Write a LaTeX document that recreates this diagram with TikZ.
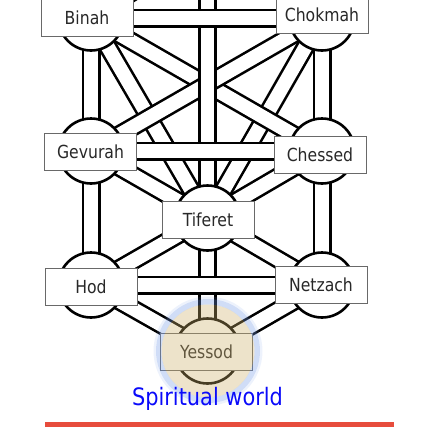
\documentclass[tikz,border=0pt]{standalone}
\usepackage{fontspec}
\setmainfont{DejaVu Sans}
\newfontfamily\lblfont{DejaVu Sans}[FakeStretch=0.87]
\definecolor{boxgray}{RGB}{105,105,105}
\definecolor{labeltext}{RGB}{40,40,40}
\definecolor{halobeige}{RGB}{205,175,105}
\definecolor{haloblue}{RGB}{110,150,230}
\definecolor{worldblue}{RGB}{10,10,250}
\definecolor{linered}{RGB}{231,76,60}
\begin{document}
\begin{tikzpicture}[x=1pt,y=-1pt,
  band/.style={draw=black, line width=2.6pt, double=white, double distance=13.8pt},
  sefira/.style={circle, draw=black, line width=2.6pt, fill=white, minimum size=65pt, inner sep=0pt},
  lbl/.style={rectangle, draw=boxgray, line width=0.9pt, fill=white, minimum width=92pt, minimum height=37pt, inner sep=0pt, text=labeltext, font=\lblfont\fontsize{18}{21}\selectfont},
]
\useasboundingbox (0,0) rectangle (422,440);
\begin{scope}
\clip (0,0) rectangle (422,440);
% centres of the sefirot
\coordinate (K) at (207.5,-55);
\coordinate (B) at (91,18);
\coordinate (C) at (322,18);
\coordinate (G) at (91,151);
\coordinate (H) at (322,151);
\coordinate (T) at (207.5,218);
\coordinate (D) at (91,285);
\coordinate (N) at (322,285);
\coordinate (Y) at (207.5,351);
% paths, bottom to top
\draw[band] (K) -- (B);
\draw[band] (K) -- (C);
\draw[band] (B) -- (T);
\draw[band] (C) -- (T);
\draw[band] (B) -- (H);
\draw[band] (C) -- (G);
\draw[band] (G) -- (T);
\draw[band] (H) -- (T);
\draw[band] (B) -- (G);
\draw[band] (C) -- (H);
\draw[band] (G) -- (D);
\draw[band] (H) -- (N);
\draw[band] (D) -- (T);
\draw[band] (N) -- (T);
\draw[band] (D) -- (Y);
\draw[band] (N) -- (Y);
\draw[band] (K) -- (T);
\draw[band] (T) -- (Y);
\draw[band] (B) -- (C);
\draw[band] (G) -- (H);
\draw[band] (D) -- (N);
% circles
\node[sefira] (cK) at (K) {};
\node[sefira] (cB) at (B) {};
\node[sefira] (cC) at (C) {};
\node[sefira] (cG) at (G) {};
\node[sefira] (cH) at (H) {};
\node[sefira] (cT) at (T) {};
\node[sefira] (cD) at (D) {};
\node[sefira] (cN) at (N) {};
\node[sefira] (cY) at (Y) {};
% labels
\node[lbl] (lB) at (87,17.5) {Binah};
\node[lbl] (lC) at (322,14.5) {Chokmah};
\node[lbl] (lG) at (90.5,151.5) {Gevurah};
\node[lbl] (lH) at (320,154.5) {Chessed};
\node[lbl] (lT) at (208,219.5) {Tiferet};
\node[lbl] (lD) at (91,286.5) {Hod};
\node[lbl] (lN) at (321,285) {Netzach};
\node[lbl] (lY) at (206.5,351.5) {Yessod};
% highlight of Yessod
\fill[haloblue, fill opacity=0.12, even odd rule] (208,351) circle (54.5) (208,351) circle (52);
\fill[haloblue, fill opacity=0.32, even odd rule] (208,351) circle (52) (208,351) circle (46.5);
\fill[halobeige, fill opacity=0.35] (208,351) circle (46.5);
% caption and rule
\node[text=worldblue, font=\lblfont\fontsize{24}{28}\selectfont, inner sep=0pt, anchor=base] (world) at (207.5,405) {Spiritual world};
\coordinate (r1) at (45,424.5);
\coordinate (r2) at (394,424.5);
\draw[linered, line width=5pt] (r1) -- (r2);
\end{scope}
\end{tikzpicture}
\end{document}
